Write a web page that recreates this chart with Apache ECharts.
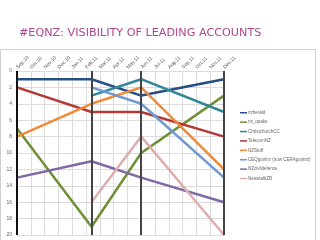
<!DOCTYPE html>
<html>
<head>
<meta charset="utf-8">
<script src="https://cdn.jsdelivr.net/npm/echarts@6/dist/echarts.min.js"></script>
<style>
  html, body { margin: 0; padding: 0; background: #fff; }
  #chart { width: 320px; height: 240px; }
</style>
</head>
<body>
<div id="chart"></div>
<script>
// month tick labels (index 0 = Sep 2010)
const months = ['Sep.10', 'Oct.10', 'Nov.10', 'Dec.10', 'Jan.11', 'Feb.11', 'Mar.11', 'Apr.11',
  'May.11', 'Jun.11', 'Jul.11', 'Aug.11', 'Sep.11', 'Oct.11', 'Nov.11', 'Dec.11']
// snapshot dates as month offsets (Sep 2010, 22 Feb 2011, Jun 2011, Dec 2011)
const snapshots = [0, 5.4, 9, 15]
const yTicks = [0, 2, 4, 6, 8, 10, 12, 14, 16, 18, 20]

// rank of each account at each snapshot
const nzherald = [1, 1, 3, 1]
const nzQuake = [7, 19, 10, 3]
const christchurchCC = [null, 3, 1, 5]
const telecomNZ = [2, 5, 5, 8]
const nzStuff = [8, 4, 2, 12]
const ceqGovtnz = [null, 2, 4, 13]
const nzCivilDefence = [13, 11, 13, 16]
const newstalkZB = [null, 16, 8, 20]

const accounts = [
  { name: 'nzherald', values: nzherald, color: '#254e82' },
  { name: 'nz_quake', values: nzQuake, color: '#6f8f35' },
  { name: 'ChristchurchCC', values: christchurchCC, color: '#2f8799' },
  { name: 'TelecomNZ', values: telecomNZ, color: '#b23a36' },
  { name: 'NZStuff', values: nzStuff, color: '#f08a36' },
  { name: 'CEQgovtnz (now CERAgovtnz)', values: ceqGovtnz, color: '#7098d2' },
  { name: 'NZcivildefence', values: nzCivilDefence, color: '#8068a6' },
  { name: 'NewstalkZB', values: newstalkZB, color: '#deaeae' }
]

const chart = echarts.init(document.getElementById('chart'))

const series = accounts.map(a => ({
  name: a.name,
  type: 'line',
  data: a.values.map((v, i) => [snapshots[i], v]),
  connectNulls: false,
  showSymbol: false,
  symbol: 'none',
  lineStyle: { width: 2.5, color: a.color },
  itemStyle: { color: a.color },
  z: 3
}))

// dark vertical lines at each snapshot
series.push({
  type: 'line',
  data: [],
  silent: true,
  z: 4,
  markLine: {
    symbol: 'none',
    silent: true,
    label: { show: false },
    animation: false,
    data: snapshots.map((d, i) => ({
      xAxis: d,
      lineStyle: { color: i === 0 ? '#111' : '#444', width: 2, type: 'solid' }
    }))
  }
})

chart.setOption({
  animation: false,
  textStyle: { fontFamily: 'Liberation Sans, Arial, sans-serif' },
  title: {
    text: '#EQNZ: VISIBILITY OF LEADING ACCOUNTS',
    left: 14,
    top: 23,
    textStyle: { fontSize: 11.2, fontWeight: 'normal', color: '#b0468f', fontFamily: 'DejaVu Sans' }
  },
  graphic: [{
    type: 'rect',
    shape: { x: 0.5, y: 49.5, width: 315, height: 195 },
    style: { fill: 'none', stroke: '#d0d0d0', lineWidth: 1 },
    silent: true
  }],
  legend: {
    orient: 'vertical',
    left: 240,
    top: 110,
    padding: 0,
    icon: 'rect',
    itemWidth: 7,
    itemHeight: 1.5,
    itemGap: 3.9,
    textStyle: { fontSize: 4.5, lineHeight: 5.5, color: '#666', padding: [0, 0, 0, -4] },
    data: accounts.map(a => a.name)
  },
  grid: { left: 17, right: 96, top: 71, bottom: 5 },
  xAxis: {
    type: 'value',
    position: 'top',
    min: 0,
    max: months.length - 1,
    interval: 1,
    axisLine: { show: false },
    axisTick: { show: false },
    axisLabel: {
      rotate: 45,
      fontSize: 5,
      color: '#555',
      margin: 3,
      formatter: v => months[v] || ''
    },
    splitLine: { lineStyle: { color: '#dcdcdc', width: 1 } }
  },
  yAxis: {
    type: 'value',
    inverse: true,
    min: yTicks[0],
    max: yTicks[yTicks.length - 1],
    interval: yTicks[1] - yTicks[0],
    axisLine: { show: false },
    axisTick: { show: false },
    axisLabel: { fontSize: 5, color: '#666', margin: 5 },
    splitLine: { lineStyle: { color: '#dcdcdc', width: 1 } }
  },
  series: series
})
</script>
</body>
</html>
